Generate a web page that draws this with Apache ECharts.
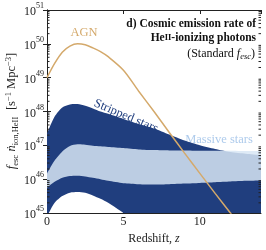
<!DOCTYPE html>
<html><head><meta charset="utf-8">
<script src="https://cdn.jsdelivr.net/npm/echarts@6/dist/echarts.min.js"></script>
<style>html,body{margin:0;padding:0;background:#fff}#c{width:266px;height:250px}</style>
</head><body><div id="c"></div>
<script>
// Redshift grid
const redshift = [0,0.5,1,1.5,2,2.5,3,3.5,4,5,6,7,8,9,10,11,12,13,14];
// log10 of emission rate [s^-1 Mpc^-3]
const agnLog = [49.0,49.42,49.75,49.93,50.0,49.97,49.88,49.77,49.62,49.22,48.6,48.0,47.38,46.77,46.17,45.58,45.0,44.4,43.8];
const strippedUpperLog = [47.35,47.85,48.12,48.21,48.22,48.17,48.09,48.0,47.93,47.78,47.63,47.5,47.32,47.14,47.0,46.89,46.8,46.75,46.71];
const strippedLowerLog = [44.9,45.3,45.5,45.6,45.62,45.6,45.52,45.42,45.3,45.0,44.7,44.45,44.25,44.1,44.0,43.9,43.8,43.7,43.6];
const massiveUpperLog = [46.17,46.55,46.82,46.98,47.03,47.02,46.99,46.97,46.95,46.92,46.88,46.86,46.85,46.85,46.84,46.84,46.84,46.83,46.83];
const massiveLowerLog = [45.75,45.92,46.04,46.09,46.1,46.08,46.04,46.0,45.95,45.88,45.85,45.84,45.85,45.87,45.89,45.91,45.93,45.95,45.96];
const xTicks = [0,5,10];
const yDecades = [45,46,47,48,49,50,51];

const toVal = a => a.map(v => Math.pow(10, v));
const SERIF = '"Liberation Serif","DejaVu Serif",serif';
const NAVY = '#203e7e';

function bandSeries(upperLog, lowerLog, color, opacity) {
  const up = toVal(upperLog), lo = toVal(lowerLog);
  return {
    type: 'custom', clip: true, silent: true,
    data: [[0, up[0]]],
    renderItem: function (params, api) {
      const pts = [];
      const n = redshift.length;
      for (let i = 0; i < n; i++) { pts.push(api.coord([redshift[i], up[i]])); }
      pts.push(pts[pts.length - 1].slice());
      const lowPts = [];
      for (let i = n - 1; i >= 0; i--) { lowPts.push(api.coord([redshift[i], lo[i]])); }
      const all = pts.concat([lowPts[0].slice()], lowPts, [lowPts[lowPts.length - 1].slice(), pts[0].slice()]);
      return { type: 'polygon', shape: { points: all, smooth: 0.25 }, style: { fill: color, opacity: opacity, stroke: null } };
    }
  };
}

const minorVals = [];
for (let d = 45; d < 51; d++) for (let m = 2; m <= 9; m++) minorVals.push(m * Math.pow(10, d));

const chart = echarts.init(document.getElementById('c'), null, { renderer: 'canvas' });
const axisLineStyle = { color: '#222', width: 1 };
chart.setOption({
  animation: false,
  grid: { left: 47, right: 5, top: 10, bottom: 33 },
  xAxis: [
    { type: 'value', min: 0, max: 14, interval: 5, position: 'bottom',
      axisLine: { show: true, lineStyle: axisLineStyle },
      axisTick: { show: true, inside: true, length: 4, lineStyle: axisLineStyle },
      splitLine: { show: false },
      axisLabel: { showMaxLabel: false, color: '#222', fontFamily: SERIF, fontSize: 12, margin: 3,
        formatter: v => xTicks.indexOf(v) >= 0 ? String(v) : '' },
      name: '{r|Redshift, }{i|z}', nameLocation: 'middle', nameGap: 20,
      nameTextStyle: { rich: { r: { fontFamily: SERIF, fontSize: 12, color: '#222' }, i: { fontFamily: SERIF, fontStyle: 'italic', fontSize: 12, color: '#222' } } }
    },
    { type: 'value', min: 0, max: 14, interval: 5, position: 'top',
      axisLine: { show: true, lineStyle: axisLineStyle },
      axisTick: { show: true, inside: true, length: 4, lineStyle: axisLineStyle },
      axisLabel: { show: false }, splitLine: { show: false } }
  ],
  yAxis: [
    { type: 'log', logBase: 10, min: 1e45, max: 1e51, interval: 1, position: 'left',
      axisLine: { show: true, lineStyle: axisLineStyle },
      axisTick: { show: true, inside: true, length: 4, lineStyle: axisLineStyle },
      splitLine: { show: false },
      axisLabel: { margin: 3,
        formatter: v => { const e = Math.round(Math.log10(v)); return yDecades.indexOf(e) >= 0 ? '{b|10}{s|' + e + '}' : ''; },
        rich: { b: { fontFamily: SERIF, fontSize: 12, color: '#222', lineHeight: 16, verticalAlign: 'bottom' },
                s: { fontFamily: SERIF, fontSize: 8, color: '#222', lineHeight: 16, verticalAlign: 'top' } } }
    },
    { type: 'log', logBase: 10, min: 1e45, max: 1e51, interval: 1, position: 'right',
      axisLine: { show: true, lineStyle: axisLineStyle },
      axisTick: { show: true, inside: true, length: 4, lineStyle: axisLineStyle },
      axisLabel: { show: false }, splitLine: { show: false } }
  ],
  series: [
    bandSeries(strippedUpperLog, strippedLowerLog, NAVY, 1),
    bandSeries(massiveUpperLog, massiveLowerLog, 'rgb(216,230,244)', 0.85),
    { type: 'line', smooth: 0.3, symbol: 'none', clip: true,
      data: redshift.map((z, i) => [z, Math.pow(10, agnLog[i])]),
      lineStyle: { color: '#d4a96b', width: 1.5 } },
    { type: 'custom', silent: true, clip: false, data: [[0, 1e46]],
      renderItem: function (params, api) {
        const ch = [];
        minorVals.forEach(v => {
          const l = api.coord([0, v]), r = api.coord([14, v]);
          ch.push({ type: 'line', shape: { x1: l[0], y1: l[1], x2: l[0] + 2.5, y2: l[1] }, style: { stroke: '#222', lineWidth: 1 } });
          ch.push({ type: 'line', shape: { x1: r[0], y1: r[1], x2: r[0] - 2.5, y2: r[1] }, style: { stroke: '#222', lineWidth: 1 } });
        });
        return { type: 'group', children: ch };
      } }
  ],
  graphic: [
    { type: 'text', x: 256, y: 24, style: { text: 'd) Cosmic emission rate of', fontFamily: SERIF, fontWeight: 'bold', fontSize: 11.5, fill: '#111', align: 'right', verticalAlign: 'middle' } },
    { type: 'text', x: 256, y: 38, style: { text: '{b|He}{s|II}{b|-ionizing photons}', align: 'right', verticalAlign: 'middle',
        rich: { b: { fontFamily: SERIF, fontWeight: 'bold', fontSize: 11.5, fill: '#111' }, s: { fontFamily: SERIF, fontWeight: 'bold', fontSize: 8.5, fill: '#111' } } } },
    { type: 'text', x: 255, y: 54, style: { text: '{r|(Standard }{i|f}{sb|esc}{r|)}', align: 'right', verticalAlign: 'middle',
        rich: { r: { fontFamily: SERIF, fontSize: 12, fill: '#111', lineHeight: 15, verticalAlign: 'middle' },
                i: { fontFamily: SERIF, fontStyle: 'italic', fontSize: 12, fill: '#111', lineHeight: 15, verticalAlign: 'middle' },
                sb: { fontFamily: SERIF, fontStyle: 'italic', fontSize: 8.5, fill: '#111', lineHeight: 15, verticalAlign: 'bottom' } } } },
    { type: 'text', x: 84, y: 33, style: { text: 'AGN', fontFamily: SERIF, fontSize: 12.5, fill: '#d4a96b', align: 'center', verticalAlign: 'middle' } },
    { type: 'text', x: 126, y: 116, rotation: -0.4, style: { text: 'Stripped stars', fontFamily: SERIF, fontSize: 12.5, fill: NAVY, align: 'center', verticalAlign: 'middle' } },
    { type: 'text', x: 219, y: 140, style: { text: 'Massive stars', fontFamily: SERIF, fontSize: 12.5, fill: '#aecbec', align: 'center', verticalAlign: 'middle' } },
    { type: 'text', x: 12, y: 111, rotation: Math.PI / 2, style: {
        text: '{i|f}{sb|esc} {i|ṅ}{sb|ion,HeII}  {r|[s}{sp|−1}{r| Mpc}{sp|−3}{r|]}', align: 'center', verticalAlign: 'middle',
        rich: { i: { fontFamily: SERIF, fontStyle: 'italic', fontSize: 12.5, fill: '#222', lineHeight: 16, verticalAlign: 'middle' },
                r: { fontFamily: SERIF, fontSize: 12.5, fill: '#222', lineHeight: 16, verticalAlign: 'middle' },
                sb: { fontFamily: SERIF, fontSize: 8.5, fill: '#222', lineHeight: 16, verticalAlign: 'bottom' },
                sp: { fontFamily: SERIF, fontSize: 8.5, fill: '#222', lineHeight: 16, verticalAlign: 'top' } } } }
  ]
});
</script></body></html>
